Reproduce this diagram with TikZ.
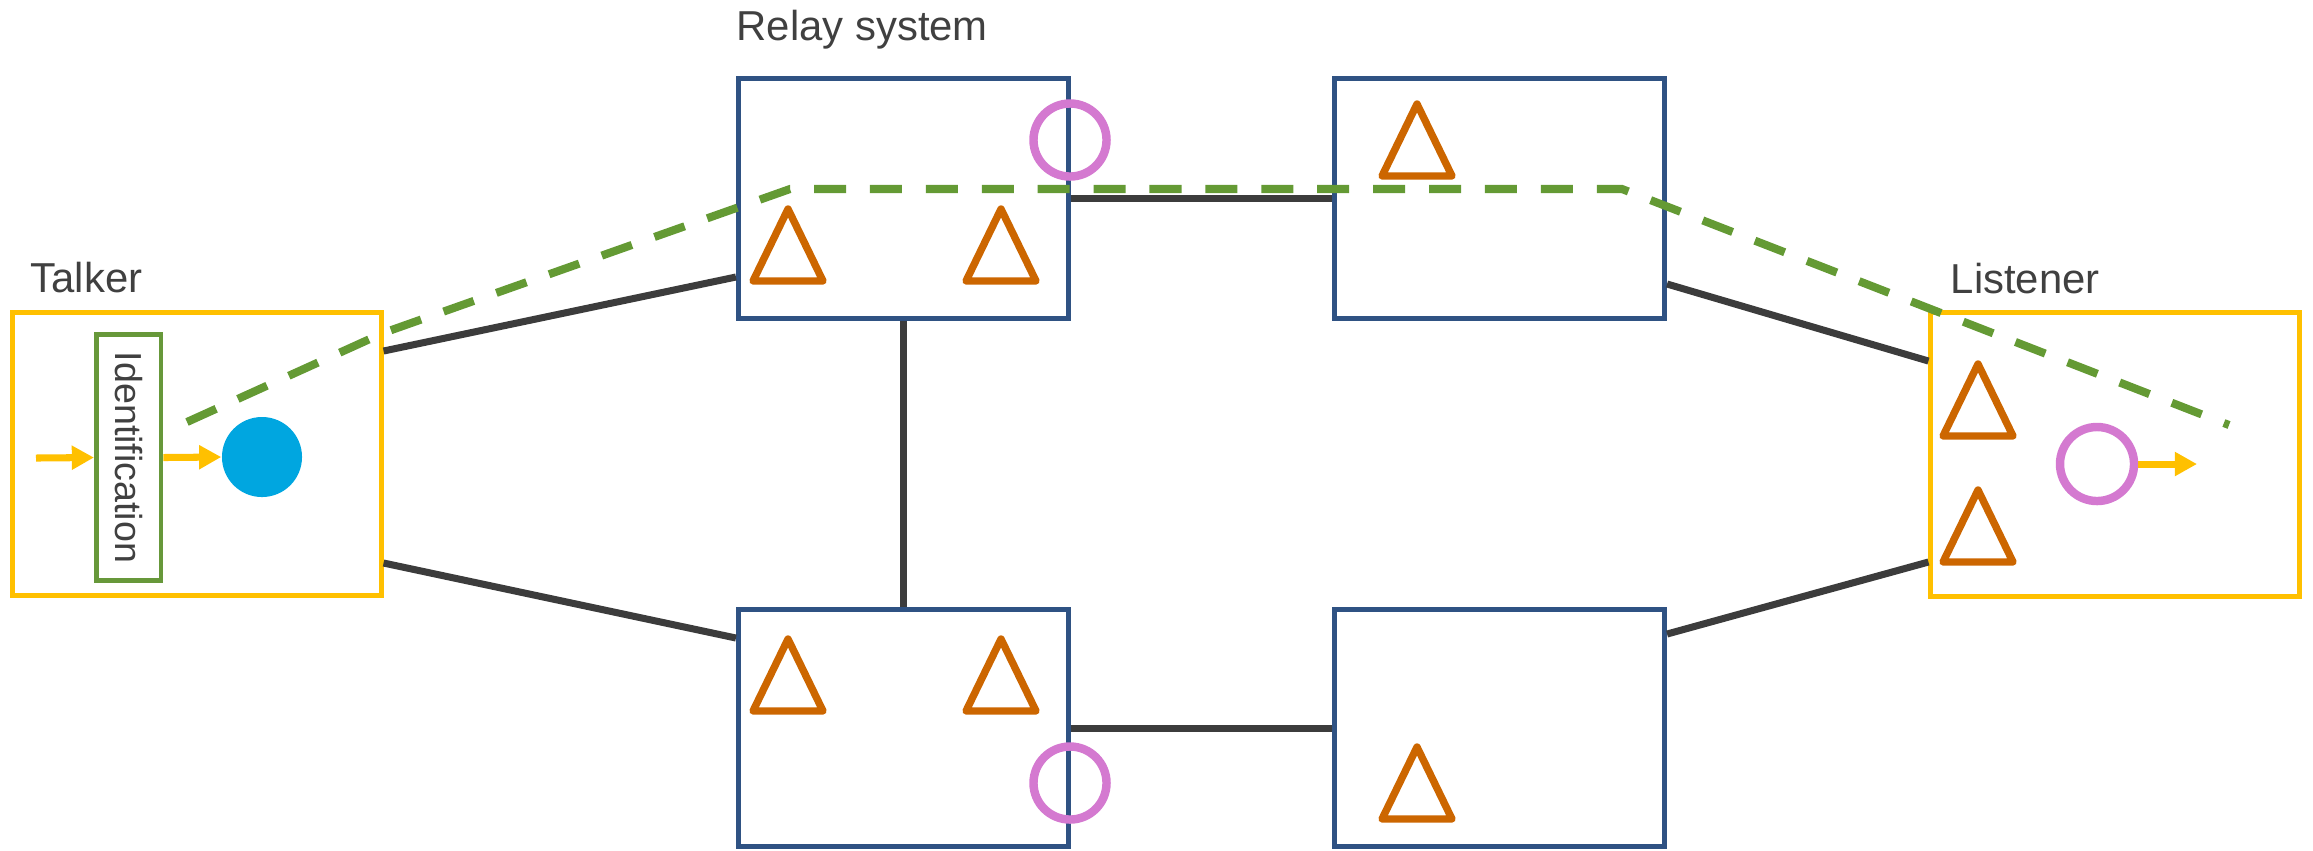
\documentclass[tikz,border=0pt]{standalone}
\usepackage{fontspec}
\setmainfont{Liberation Sans}
\usetikzlibrary{arrows.meta, calc}
\definecolor{talkeryellow}{HTML}{FFC000}
\definecolor{relayblue}{HTML}{2F5283}
\definecolor{identgreen}{HTML}{67983A}
\definecolor{routegreen}{HTML}{649A34}
\definecolor{triorange}{HTML}{CC6600}
\definecolor{ringpink}{HTML}{D479D0}
\definecolor{dotblue}{HTML}{00A6E0}
\definecolor{linkgray}{HTML}{3C3C3C}
\definecolor{textgray}{HTML}{404040}

\begin{document}
\begin{tikzpicture}[x=0.01cm, y=-0.01cm,
	relaybox/.style={draw=relayblue, line width=1.4pt, minimum width=3.3cm, minimum height=2.4cm, inner sep=0pt},
	endbox/.style={draw=talkeryellow, line width=1.4pt, minimum width=3.68cm, minimum height=2.83cm, inner sep=0pt},
	link/.style={draw=linkgray, line width=2pt},
	ring/.style={circle, draw=ringpink, line width=2.4pt, minimum size=0.73cm, inner sep=0pt},
	tri/.style={draw=triorange, line width=2.1pt, line join=round},
	feed/.style={talkeryellow, line width=2pt, -{Triangle[length=6.3pt,width=6.5pt]}},
	route/.style={draw=routegreen, line width=2.3pt, dash pattern=on 9.1pt off 6.8pt},
	boxtitle/.style={text=textgray, font=\fontsize{11.9}{14}\selectfont, inner sep=0pt, anchor=base west}]
	\useasboundingbox (0,0) rectangle (2313,850);
	% talker
	\node[endbox] (talker) at (197,454) {};
	\node[boxtitle] (talkertitle) at (30,292) {Talker};
	\node[draw=identgreen, line width=1.4pt, minimum width=0.645cm, minimum height=2.46cm, inner sep=0pt,
		text=textgray, font=\fontsize{10.7}{12}\selectfont] (ident) at (128.7,457.5) {\rotatebox{-90}{Identification}};
	\node[circle, fill=dotblue, minimum size=0.8cm, inner sep=0pt] (dot) at (262,457) {};
	\coordinate (feedin) at (36,458);
	\draw[feed] (feedin) -- (ident.west);
	\draw[feed] (ident.east) -- (dot.west);
	% relay system
	\node[boxtitle] (relaytitle) at (736,40) {Relay system};
	\node[relaybox] (relayA) at (903.5,198.5) {};
	\node[relaybox] (relayB) at (1499.5,198.5) {};
	\node[relaybox, minimum height=2.36cm] (relayC) at (903.5,728) {};
	\node[relaybox, minimum height=2.36cm] (relayD) at (1499.5,728) {};
	% listener
	\node[endbox] (listener) at (2115,454.5) {};
	\node[boxtitle] (listenertitle) at (1950,293) {Listener};
	% links
	\draw[link] (talker.east |- 0,351) -- (relayA.west |- 0,277);
	\draw[link] (talker.east |- 0,563) -- (relayC.west |- 0,638);
	\draw[link] (relayA.east) -- (relayB.west);
	\draw[link] (relayA.south) -- (relayC.north);
	\draw[link] (relayC.east) -- (relayD.west);
	\draw[link] (relayB.east |- 0,284) -- (listener.west |- 0,361);
	\draw[link] (relayD.east |- 0,634) -- (listener.west |- 0,562);
	% triangles
	\foreach \x/\y in {788/209, 1001/209, 1417/104, 788/639, 1001/639, 1417/747, 1978/364, 1978/490}
		\draw[tri] (\x,\y) -- ++(35,72) -- ++(-70,0) -- cycle;
	% rings
	\node[ring] (ringA) at (1070,140) {};
	\node[ring] (ringC) at (1070,783) {};
	\node[ring, minimum size=0.74cm] (ringL) at (2097,464) {};
	\coordinate (feedout) at (2197,464);
	\draw[feed] (ringL.east) -- (feedout);
	% route
	\draw[route] (187,422) -- (383,333) -- (790,189) -- (1622,189) -- (2229,425);
\end{tikzpicture}
\end{document}
